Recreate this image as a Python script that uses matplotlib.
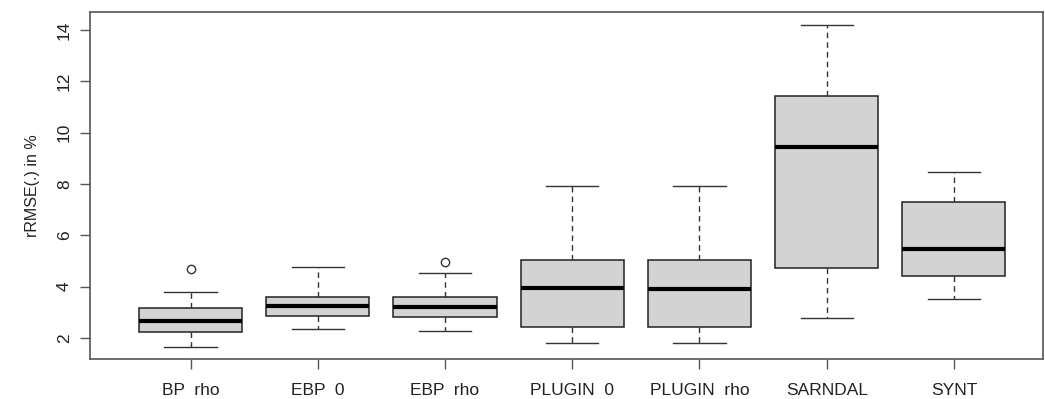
import matplotlib.pyplot as plt

plt.rcParams["font.family"] = ["Liberation Sans", "DejaVu Sans"]

# summary statistics per estimator (rRMSE in %)
methods = ["BP  rho", "EBP  0", "EBP  rho", "PLUGIN  0", "PLUGIN  rho", "SARNDAL", "SYNT"]
whisker_low = [1.65, 2.36, 2.29, 1.82, 1.82, 2.79, 3.53]
q1 = [2.23, 2.86, 2.82, 2.44, 2.44, 4.72, 4.42]
median = [2.66, 3.25, 3.20, 3.96, 3.91, 9.44, 5.46]
q3 = [3.16, 3.61, 3.61, 5.04, 5.04, 11.44, 7.30]
whisker_high = [3.78, 4.75, 4.53, 7.92, 7.92, 14.20, 8.47]
outliers = [[4.67], [], [4.95], [], [], [], []]

stats = []
for i, name in enumerate(methods):
    stats.append({
        "label": name,
        "whislo": whisker_low[i],
        "q1": q1[i],
        "med": median[i],
        "q3": q3[i],
        "whishi": whisker_high[i],
        "fliers": outliers[i],
    })

fig = plt.figure(figsize=(10.45, 3.99), dpi=100)
ax = fig.add_axes([90 / 1045, 40 / 399, 953 / 1045, 347 / 399])

ax.bxp(
    stats,
    positions=range(1, len(methods) + 1),
    widths=0.81,
    patch_artist=True,
    boxprops=dict(facecolor="#d3d3d3", edgecolor="#222222", linewidth=1.1),
    medianprops=dict(color="black", linewidth=3),
    whiskerprops=dict(color="#333333", linewidth=1.0, linestyle=(0, (4, 3))),
    capprops=dict(color="#333333", linewidth=1.0),
    capwidths=0.41,
    flierprops=dict(marker="o", markerfacecolor="none", markeredgecolor="#333333",
                    markersize=6, markeredgewidth=1.0),
)

ax.set_xlim(0.21, 7.70)
ax.set_ylim(1.18, 14.70)
ax.set_yticks([2, 4, 6, 8, 10, 12, 14])
ax.set_yticklabels(["2", "4", "6", "8", "10", "12", "14"], rotation=90, va="center")
ax.set_ylabel("rRMSE(.) in %", fontsize=11.5, color="#222222", labelpad=12)
ax.tick_params(axis="both", length=7, width=1.0, color="#555555", labelsize=12.5,
               labelcolor="#222222", pad=6)
ax.tick_params(axis="x", pad=10)

for side in ["top", "right"]:
    ax.spines[side].set_color("#555555")
    ax.spines[side].set_linewidth(1.2)
ax.spines["left"].set_color("#555555")
ax.spines["bottom"].set_color("#555555")
ax.spines["left"].set_linewidth(1.2)
ax.spines["bottom"].set_linewidth(1.2)

fig.savefig("out.png", dpi=100)
